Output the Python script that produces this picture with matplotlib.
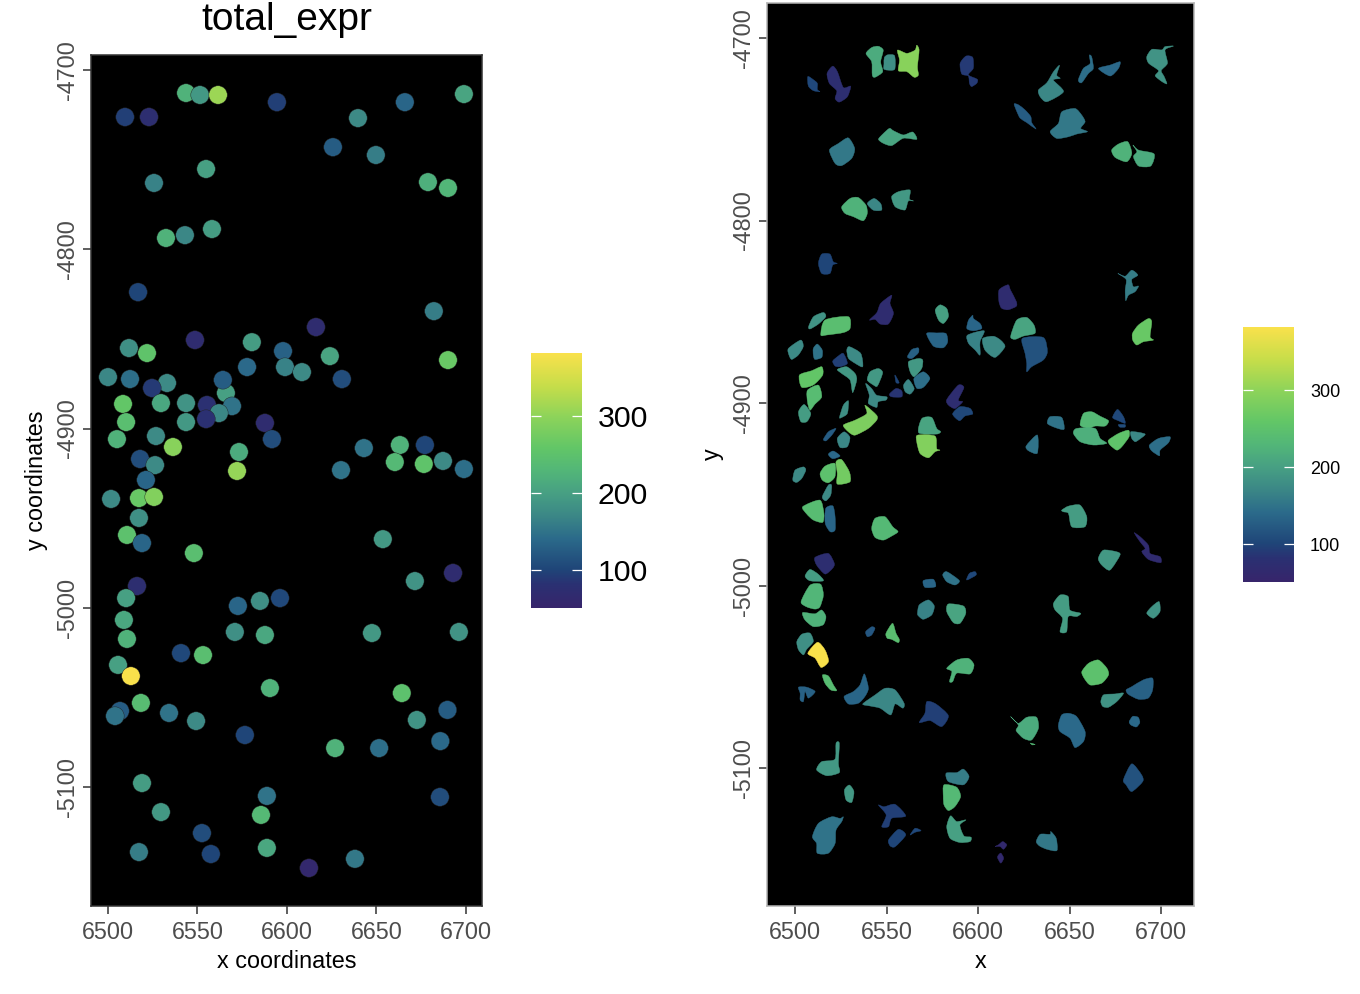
import numpy as np
import matplotlib
matplotlib.use("Agg")
import matplotlib.pyplot as plt
from matplotlib.collections import PatchCollection
from matplotlib.colors import LinearSegmentedColormap, Normalize
from matplotlib.patches import PathPatch
from matplotlib.path import Path

plt.rcParams['font.family'] = ['Liberation Sans', 'DejaVu Sans']
plt.rcParams['axes.unicode_minus'] = False

# spatPlot (left): one point per cell
point_x = [6509.5, 6522.9, 6543.6, 6551.4, 6561.5, 6594.4, 6639.7, 6665.9, 6698.9, 6625.7, 6649.7, 6678.8,
           6690.0, 6554.8, 6525.7, 6532.4, 6543.0, 6558.1, 6516.8, 6682.1, 6511.7, 6521.8, 6548.6, 6580.4,
           6597.8, 6624.0, 6616.2, 6577.7, 6598.9, 6608.4, 6630.7, 6690.0, 6500.0, 6512.3, 6533.0, 6524.6,
           6565.9, 6564.2, 6508.4, 6529.6, 6543.6, 6555.3, 6569.3, 6562.0, 6510.1, 6543.6, 6554.8, 6505.0,
           6526.8, 6536.3, 6517.9, 6526.3, 6521.2, 6573.2, 6572.1, 6587.7, 6591.6, 6643.0, 6630.2, 6663.1,
           6677.1, 6687.2, 6660.3, 6676.5, 6698.9, 6501.7, 6517.3, 6525.7, 6517.3, 6510.6, 6519.0, 6548.0,
           6653.6, 6671.5, 6692.8, 6516.2, 6510.1, 6572.6, 6584.9, 6596.1, 6508.9, 6510.6, 6570.9, 6587.7,
           6647.5, 6696.1, 6540.8, 6553.1, 6505.6, 6512.8, 6590.5, 6664.2, 6518.4, 6506.7, 6503.9, 6534.1,
           6549.2, 6672.6, 6689.7, 6685.7, 6651.5, 6626.9, 6576.5, 6519.0, 6529.6, 6552.5, 6588.8, 6585.5,
           6517.3, 6557.5, 6588.8, 6612.3, 6638.0, 6685.5]
point_y = [-4726.2, -4726.2, -4712.8, -4713.9, -4713.9, -4717.9, -4726.8, -4717.9, -4713.4, -4743.0, -4747.4, -4762.5,
           -4765.8, -4755.2, -4763.0, -4793.7, -4792.1, -4788.7, -4823.9, -4834.5, -4855.1, -4857.9, -4850.6, -4851.8,
           -4856.8, -4859.6, -4843.4, -4865.7, -4865.7, -4868.5, -4872.4, -4861.8, -4871.3, -4872.4, -4874.6, -4877.4,
           -4880.2, -4872.9, -4886.3, -4885.8, -4885.8, -4886.9, -4887.5, -4891.4, -4896.4, -4896.4, -4894.7, -4905.9,
           -4904.2, -4910.3, -4917.0, -4920.4, -4928.7, -4913.1, -4923.7, -4896.9, -4905.9, -4910.9, -4923.2, -4909.2,
           -4909.2, -4918.1, -4918.7, -4919.8, -4922.6, -4939.3, -4938.8, -4938.2, -4949.9, -4959.4, -4963.9, -4969.5,
           -4961.7, -4985.1, -4980.6, -4987.9, -4994.6, -4999.0, -4996.2, -4994.6, -5006.8, -5017.4, -5013.5, -5015.2,
           -5014.1, -5013.5, -5025.3, -5026.4, -5031.9, -5038.1, -5044.8, -5047.6, -5053.1, -5057.6, -5060.4, -5058.7,
           -5063.2, -5062.6, -5057.0, -5074.4, -5078.3, -5078.3, -5071.0, -5097.8, -5114.0, -5125.7, -5105.0, -5115.6,
           -5136.3, -5137.4, -5134.0, -5145.2, -5140.1, -5105.6]
point_value = [95, 75, 225, 190, 310, 95, 175, 135, 205, 125, 160, 220,
               230, 200, 165, 225, 170, 195, 100, 160, 180, 255, 70, 195,
               130, 205, 70, 140, 165, 175, 110, 265, 170, 145, 175, 90,
               200, 125, 260, 210, 185, 80, 150, 170, 245, 190, 80, 225,
               175, 295, 110, 175, 135, 215, 305, 70, 110, 150, 150, 225,
               100, 175, 235, 255, 145, 175, 265, 290, 180, 250, 135, 245,
               190, 185, 70, 75, 200, 135, 180, 105, 210, 225, 180, 210,
               190, 185, 105, 245, 200, 384, 225, 250, 240, 125, 150, 150,
               175, 185, 125, 140, 145, 225, 100, 195, 190, 110, 150, 235,
               160, 100, 210, 60, 155, 110]

# spatInSituPlotPoints (right): cell outlines, as centre + offsets in data units
cell_x = [6510.0, 6523.7, 6543.7, 6551.6, 6561.8, 6593.8, 6639.4, 6659.0, 6671.8, 6697.7,
          6625.7, 6649.4, 6678.5, 6690.4, 6525.5, 6555.6, 6532.8, 6543.7, 6558.3, 6517.3,
          6682.2, 6616.4, 6548.3, 6580.2, 6511.9, 6521.9, 6597.5, 6577.4, 6598.4, 6608.0,
          6624.4, 6630.6, 6690.0, 6500.9, 6512.2, 6524.6, 6532.8, 6564.3, 6565.6, 6508.2,
          6528.6, 6543.7, 6555.6, 6555.2, 6562.0, 6569.2, 6543.7, 6510.4, 6505.0, 6526.8,
          6535.9, 6518.8, 6526.4, 6521.3, 6516.0, 6587.4, 6591.6, 6573.8, 6572.5, 6642.6,
          6629.9, 6663.1, 6677.1, 6678.5, 6660.3, 6676.7, 6687.1, 6699.1, 6502.4, 6518.2,
          6526.4, 6517.3, 6510.0, 6519.2, 6547.9, 6653.9, 6671.2, 6692.2, 6510.0, 6509.1,
          6573.2, 6584.7, 6596.2, 6571.4, 6587.8, 6645.7, 6695.8, 6510.9, 6541.0, 6552.8,
          6590.2, 6505.5, 6512.8, 6518.8, 6505.5, 6533.7, 6549.2, 6576.5, 6664.0, 6672.2,
          6688.5, 6685.5, 6627.5, 6651.2, 6684.9, 6518.2, 6529.7, 6553.8, 6555.6, 6565.6,
          6516.4, 6589.6, 6588.4, 6585.6, 6613.5, 6612.4, 6637.6, 6629.9]
cell_y = [-4725.8, -4724.9, -4713.0, -4713.2, -4713.9, -4715.7, -4727.6, -4718.5, -4717.2, -4712.0,
          -4743.0, -4746.8, -4762.3, -4765.0, -4762.3, -4754.4, -4793.4, -4791.2, -4788.4, -4823.5,
          -4835.4, -4842.5, -4850.9, -4850.9, -4854.9, -4857.8, -4856.8, -4865.2, -4866.4, -4868.3,
          -4859.1, -4871.9, -4861.3, -4870.6, -4871.9, -4876.8, -4874.6, -4872.5, -4879.8, -4885.6,
          -4886.5, -4885.6, -4887.0, -4894.4, -4891.1, -4887.4, -4895.7, -4896.6, -4905.7, -4903.9,
          -4910.3, -4917.2, -4920.3, -4928.5, -4987.9, -4896.6, -4905.3, -4913.0, -4923.6, -4910.8,
          -4923.0, -4909.0, -4907.5, -4912.5, -4918.1, -4920.0, -4918.1, -4923.6, -4939.5, -4938.6,
          -4937.7, -4949.2, -4959.0, -4963.2, -4968.7, -4962.3, -4985.7, -4979.7, -4994.3, -5006.2,
          -4998.8, -4995.7, -4994.8, -5013.0, -5015.2, -5013.4, -5014.3, -5017.0, -5025.3, -5026.2,
          -5044.4, -5031.6, -5038.0, -5053.2, -5058.1, -5058.1, -5063.6, -5070.9, -5047.7, -5062.3,
          -5057.2, -5074.6, -5078.2, -5079.1, -5105.6, -5097.4, -5114.2, -5123.9, -5138.5, -5135.2,
          -5136.7, -5133.9, -5105.2, -5116.0, -5142.1, -5149.0, -5140.3, -5086.8]
cell_value = [105, 75, 215, 180, 295, 90, 170, 145, 140, 185,
              125, 155, 225, 215, 155, 205, 225, 170, 190, 100,
              160, 70, 70, 200, 185, 245, 135, 135, 165, 175,
              205, 115, 265, 175, 150, 95, 175, 130, 190, 260,
              190, 190, 100, 85, 170, 145, 175, 240, 195, 180,
              285, 125, 170, 140, 75, 72, 105, 205, 290, 150,
              150, 235, 105, 110, 220, 255, 170, 145, 175, 250,
              275, 175, 240, 135, 235, 195, 190, 68, 195, 230,
              135, 150, 105, 165, 205, 195, 185, 225, 120, 245,
              225, 180, 384, 240, 130, 135, 170, 95, 250, 185,
              130, 140, 215, 140, 115, 190, 190, 95, 100, 105,
              150, 200, 160, 235, 62, 62, 155, 235]
cell_shape = [
    [(-3, 4.7), (0, 3), (2.2, 1), (2.2, -2.4), (3.6, -3.6), (0, -3), (-2.7, -.5)],
    [(-3.1, 9.5), (-.5, 6.4), (2.7, -2.2), (6.7, -1.5), (4.9, -7.3), (.5, -10.2), (-1.8, -8.2), (-.9, -4), (-4.9, 0), (-6.2, 5.5)],
    [(-4.9, 4.5), (-1.8, 7.8), (1.8, 8.5), (4.5, 6.4), (3.1, 0), (4.2, -5.5), (0, -8.5), (-1.5, -7.3), (-1.8, 0)],
    [(-2.8, 2.5), (-1, 4), (2.8, 3.5), (2.8, -4), (-2.8, -4), (-3, -1)],
    [(-5.8, 7.3), (-.7, 5.5), (3.8, 7.3), (4.7, 10), (6, 7.3), (5.1, -1.8), (5.6, -6.4), (3.3, -7.6), (-.7, -4.5), (-5.3, -4), (-4.7, 1.8)],
    [(-3.6, 1.8), (-.4, 5.8), (3.3, 5.1), (3.6, -.9), (.9, -4.5), (5.8, -6.9), (5.5, -9.1), (2.7, -10.9), (1.5, -9.1), (.9, -5.1), (-2.7, -4)],
    [(-6.4, -.9), (-1.8, 3.1), (1.8, 9.1), (5.1, 12.7), (3.6, 7.3), (5.5, 5.5), (1.8, 4.5), (7.3, -1.8), (-1.8, -7.3), (-5.5, -4.5)],
    [(-4.2, -4.5), (-1.5, 1.8), (2.2, 4.5), (1.8, 9.1), (3.1, 8.2), (4, 1.8), (1.3, -.9), (-2.4, -6)],
    [(-6, .5), (.4, 2.4), (5.8, 4.2), (4.9, .5), (.4, -3.6)],
    [(-5.5, 1.8), (-2.7, 5.8), (2.7, 5.5), (4.5, 7.3), (9.1, 7.6), (4.5, 5.5), (5.8, -1.8), (2.4, -5.8), (4, -9.1), (5.5, -13.1), (2.7, -11.8), (-.9, -8.7), (.9, -5.8), (-4.5, -1.8)],
    [(-6, 6.9), (-3.6, 6.4), (0, 3.6), (3.1, 0), (3.6, -3.3), (6, -6.9), (.9, -3.3), (-2.7, -.9), (-4.5, 2.7)],
    [(-10, -4.5), (-5.5, 0), (-3.6, 6.4), (3.6, 8.2), (7.3, 4.5), (9.1, .9), (6.7, -2.7), (10.4, -4.5), (4.5, -5.8), (0, -7.3), (-6.4, -8.2)],
    [(-5.5, .9), (-1.8, 4.2), (3.3, 5.5), (5.5, -.9), (2.7, -5.5), (-3.6, -3.1)],
    [(-5.8, 6.4), (-2.7, 3.6), (5.8, 1.5), (4, -5.1), (-2.7, -5.1), (-5.5, 0), (-3.6, 2.7)],
    [(-6.7, .9), (-1.8, 4.5), (3.6, 7.6), (7.1, 1.8), (5.5, -3.6), (0, -7.6), (-3.6, -6.4)],
    [(-10, -1.1), (-7.6, 1.8), (-4, 4.9), (-1.8, 3.6), (3.6, 1.3), (8.7, 2.9), (10.9, -1.1), (3.6, -.5), (-2.7, -4.5), (-7.3, -3.3)],
    [(-7.3, .9), (-2.7, 5.5), (1.8, 6), (6, 1.8), (6.7, -2.7), (4.5, -6.7), (-.9, -4.5), (-5.5, -2.7)],
    [(-4.2, .5), (-.5, 3.3), (3.1, .5), (3.6, -3.1), (-.9, -3.1)],
    [(-5.5, 1.5), (-1.8, 4.2), (4.5, 5.1), (4.2, .2), (6.4, -.9), (3.6, -.9), (1.8, -5.8), (-3.6, -4)],
    [(-4.5, 0), (-2.7, 5.1), (1.8, 5.1), (3.6, .9), (5.8, 0), (3.3, -.9), (1.8, -5.5), (-2.7, -5.5)],
    [(-5.8, 6.4), (-1.8, 4.9), (1.8, 8.2), (5.1, 5.5), (1.8, 3.1), (2.7, -.9), (5.5, -.5), (3.6, -3.6), (0, -5.5), (-1.5, -8.5), (-1.8, -2.7), (-1.3, 3.1)],
    [(-4.9, 4.5), (0, 7.3), (1.3, 4.5), (4.5, -1.8), (4.5, -4.5), (0, -6.4), (-3.6, -5.5), (-5, -1.8)],
    [(-7.6, -3.6), (-3.6, .4), (-1.5, 5.5), (4.5, 10), (3.6, 5.5), (5.5, 0), (2.7, -5.8), (-1.8, -5.8), (-4.5, -3.3)],
    [(-3.6, 1.8), (-.9, 4.7), (2.7, 2.7), (3.6, -1.8), (.9, -5.5), (-1.8, -3.6)],
    [(-4.5, -3.3), (-1.8, 2.2), (3.6, 4.5), (4.9, 2.2), (.9, -1.8), (-3.6, -4.5)],
    [(-7.8, -4.9), (-5.5, 3.3), (7.3, 5.1), (8.2, -1.3), (4.5, -3.6), (-4.5, -4.9)],
    [(-3.6, -2.4), (-2.7, 2.2), (-.4, 4.9), (0, 3.1), (3.6, .4), (4.5, -2.4), (0, -3.6)],
    [(-5.5, 3.3), (0, 3.6), (5.1, 3.3), (6, -1.3), (3.6, -4.5), (-1.8, -3.6)],
    [(-4.2, 3.6), (4.9, 6), (2.7, 0), (2.7, -7.3), (0, -4.5), (-3.6, -.9)],
    [(-5.5, 3.6), (.4, 4.9), (4.4, 2.7), (6.7, -.9), (1.3, -6.7), (-4.2, -2.7)],
    [(-6.6, -4.5), (-3.3, 4.5), (2.2, 6), (6.2, 1.8), (6.7, -2.7), (.4, -4.2), (-4.2, -6)],
    [(-6.4, 7.3), (5.1, 7.8), (7.3, 0), (5.1, -4.5), (-1.3, -8.2), (-4, -11), (-4, -6.4), (-4.9, -.9)],
    [(-5.6, -.5), (-2.4, 4), (3.1, 7.6), (4.9, 5.8), (4, -2.4), (5.8, -4.2), (.4, -5.1), (-3.3, -6.9), (-5.5, -4.2)],
    [(-4.5, .5), (2.2, 5.1), (3.6, 1.5), (.9, -3.1), (-2.7, -5.5), (-4.2, -3.1)],
    [(-2.2, 1.8), (0, 4.2), (2.7, .9), (2.4, -3.1), (-1.3, -4.2), (-2.2, -1.8)],
    [(-4, -.2), (-.9, 2.6), (1.8, 4), (4, -1.5), (0, -3.3), (-2.7, -2.9)],
    [(-4.5, 3.6), (-3.1, 5.5), (3.1, 1.8), (4.2, -5.5), (0, -3.6), (-3.6, -.9)],
    [(-2.9, -2.2), (-.5, 1.8), (3.1, 2.7), (3.1, 0), (-.5, -3.1)],
    [(-3.6, 2.4), (1.8, 4.2), (4.2, 3.3), (3.6, -1.3), (-.5, -5.8), (-2.7, -3.1)],
    [(-5.8, .9), (.9, 3.3), (6.4, 5.5), (6.9, .9), (1.8, -4.5), (-4.5, -5.8)],
    [(-5.5, 4.9), (-.4, 6.4), (4.2, 2.7), (5.1, -.9), (2.9, -7.8), (1.5, -.9), (-3.1, 2.7)],
    [(-4.2, -1.8), (-2.7, 2.7), (1.8, 4.5), (4.2, 2.2), (1.3, -5.1), (-.9, -4.5)],
    [(-1, 2.4), (1.3, -1.8), (-.4, -1.8)],
    [(-3.6, -.7), (0, 2.4), (3.1, 1.1), (3.1, -2.2), (-2.4, -2.2)],
    [(-2.7, .9), (0, 4), (3.1, -.9), (.9, -4), (-1.8, -2.7)],
    [(-4.2, .9), (.9, 4.5), (4.5, .9), (.9, -4), (-2.7, -4.5)],
    [(-5.1, 6.4), (-1.8, 3.6), (.9, 0), (6.4, -.9), (6, -2.7), (1.8, -3.6), (.9, -6.7), (-3.6, -4.5), (-3.1, 0)],
    [(-3.6, 3.6), (2.4, 6.4), (4.2, 0), (.5, -4), (-2.2, -7.3), (-3.6, -2.7)],
    [(-3.1, .9), (0, 4.9), (3.6, 0), (1.5, -4.5), (-1.8, -4.5)],
    [(-2.5, -4), (-.4, 2.7), (2.4, 5.1), (1.8, -1.8), (-1.3, -4)],
    [(-9.5, -1.8), (-3.1, .9), (3.3, 4.5), (2.4, 9.1), (8.7, 3.6), (8.7, .9), (4.2, -3.6), (-3.1, -7.3), (-6.7, -5.5)],
    [(-3.3, -2.7), (-.5, 1.5), (3.6, 3.3), (1.3, -.4), (-1.8, -3.5)],
    [(-3.3, .9), (.4, 4.5), (3.6, 1.5), (2.2, -3.6), (-1.8, -4)],
    [(-3.1, .4), (-.4, 2.2), (3.3, -.5), (-.7, -2)],
    [(-5.1, 3.3), (2.2, 5.5), (5.5, 0), (4.5, -2.7), (.4, -5.8), (-4.2, -.9)],
    [(-4.5, -1.5), (1.8, 6.4), (4.9, 5.1), (1.8, -1.8), (4.2, -2.7), (0, -6.4), (-3.6, -4.5)],
    [(-5.5, -.7), (-1.5, 3.3), (4, 2.4), (5.5, -.7), (1.3, -1.8), (-1.8, -4.4)],
    [(-6.2, -3.3), (-4.5, 4.5), (.9, 5.1), (3.6, -.9), (5.8, -2.7), (3.6, -4)],
    [(-6, 2.4), (-5.6, 6), (4, 5.5), (4.9, -1.3), (6.7, -2.2), (4, -3.1), (.4, -6.4), (-4.2, -4)],
    [(-4.7, -.4), (-3.3, 3.3), (3.1, 2.9), (4.4, -3.6), (-.5, -2.6)],
    [(-3.6, -.5), (2.5, 5.5), (2.5, -4.5), (-2.4, -3.1)],
    [(-7.3, -3.1), (-5.5, 3.3), (-.9, 4.2), (3.6, 1.8), (8.2, -.7), (6.4, -3.6), (.9, -3.6), (-2.7, -4.9)],
    [(-3.6, -.4), (-.9, 4), (2.4, 0), (3.3, -3.6), (-.4, -2.2)],
    [(-1.8, .7), (1.8, .7), (1.8, -.7), (-1, -.7)],
    [(-8.2, 1.5), (-6.4, 4.2), (3.6, 4.2), (6.4, -1.3), (10, -4), (2.7, -4.9), (-4.5, -3.1)],
    [(-5.5, -.4), (0, 3.3), (5.5, 5.1), (5.8, 1.5), (1.8, -4), (-.9, -5.8), (-4.5, -3.1)],
    [(-3.5, 2.4), (4.2, 1.1), (.5, -2.2), (-1.3, -3.1), (-3.1, -1.3)],
    [(-5.5, .5), (-.5, 4.2), (5.8, 5.1), (4.9, 1.8), (.4, -2.2), (0, -5.3), (-4.2, -2.6)],
    [(-3.6, -2.7), (-2.4, 2.7), (2.2, 4.5), (3.5, 2.7), (1.3, -1.8), (-1.5, -4)],
    [(-4.5, 0), (-1.8, 4), (3.6, 5.5), (3.6, -1.8), (0, -5.1), (-3.3, -3.6)],
    [(-4, 5.5), (-.9, 6.7), (3.3, 0), (3.6, -5.5), (-3.3, -6.7), (-3.3, -.9)],
    [(-2.4, -2.2), (.9, 4.2), (2.7, 4.2), (2.2, -1.3), (-.5, -4.4)],
    [(-5.8, 2.2), (3.6, 5.8), (5.8, -1.5), (5.1, -6.4), (0, -5.1), (-3.6, -1.8)],
    [(-2.4, 5.5), (1.5, 6.8), (2.7, .9), (2.7, -6.4), (0, -7.3), (-2.7, -2.7)],
    [(-6, 0), (-4.2, 5.5), (1.3, 6.4), (5.5, .9), (8.4, -1.8), (4.9, -4.2), (.4, -6.4), (-4.2, -4.9)],
    [(-8.2, 3.6), (-4.5, 5.8), (1.8, 6.4), (5.5, 0), (4.5, -5.5), (-2.7, -5.5), (-4.5, 1.8), (-7.3, 2.7)],
    [(-5.5, .5), (-2.7, 5.1), (4.5, 4.2), (6.4, 2.4), (.9, -5.8), (-3.6, -3.1)],
    [(-6.9, 8.6), (-3.6, 6.4), (.9, 1.8), (1.8, -2.7), (7.3, -4.5), (7.6, -7.8), (.9, -6), (-2.7, -1.8), (-.9, 0), (-3.6, 3.6)],
    [(-4.5, -.5), (-1.8, 3.1), (2.7, .5), (5.5, -3.1), (-1.8, -3.1)],
    [(-5.8, -2.7), (-.9, 6.4), (4.9, 6.9), (6.4, .9), (4.5, -5.5), (1.8, -6.7), (-2.7, -5.5)],
    [(-3.1, 1.5), (2.4, 2.2), (3.6, -1.8), (-2.2, -2.2)],
    [(-4, 1.5), (-1.8, 3.3), (5.1, -1.6), (2.7, -4), (-1.8, -2.2)],
    [(-2.4, -2.2), (-.9, 1.5), (2.2, 2.4), (2.7, .5)],
    [(-4.5, -2.2), (-3.5, 2.4), (1.5, 5.1), (4.7, 1.8), (3.3, -3.1), (-1.3, -5.5), (-4, -3.6)],
    [(-4.9, .9), (-4, 5.1), (4.2, 4), (5.5, 0), (2.4, -5.5), (-1.3, -5.1)],
    [(-4.5, 3.6), (-.9, 8.2), (3.6, 7.3), (4.5, 0), (10.4, -1.8), (8.2, -3.6), (3.6, -3.6), (2.7, -11.9), (-.9, -11.9), (.5, -4.6), (-3.6, 0)],
    [(-3.6, -.9), (-.9, 2.7), (3.1, 5.5), (3.6, 0), (0, -3.6)],
    [(-6.7, 2.2), (0, 1.5), (3.6, 3.6), (6, 0), (4.5, -4.5), (-.9, -5.5), (-5.5, -1.8)],
    [(-2.4, 0), (.9, 2.7), (2.7, 1.8), (.9, -1.8), (-1.5, -2.7)],
    [(-3.1, 0), (.5, 5.5), (2.4, 0), (4.2, -3.3), (3.6, -5.1), (0, -3.3), (-2.4, -2.7)],
    [(-7.3, -.9), (-1.8, 3.6), (4.5, 4.5), (7.6, .9), (5.5, -4), (-1.8, -3.6), (-4, -8.2), (-5.8, -8.2), (-4.5, -2.7)],
    [(-4.5, .9), (-1.8, 4.9), (2.7, 5.5), (4.5, .9), (.9, -3.3), (-.9, -6.4), (-3.6, -3.6)],
    [(-5.8, .9), (-.5, 6.9), (3.6, 2.7), (5.5, -3.6), (1.5, -6.9), (-1.8, -1.8)],
    [(-3.8, 4.2), (-.5, 3.6), (2.2, -1.3), (4, -4.4), (.7, -4), (-2.4, -.4)],
    [(-3.6, 2.4), (.9, 2.4), (5.5, 0), (1.8, -3.6), (0, 0), (-.9, -5.5), (-2.7, -4.6), (-2.7, -.9)],
    [(-6.9, -2.7), (-1.8, 0), (1.8, 3.6), (4.2, 9.7), (6.4, 1.8), (4.5, -2.7), (.9, -6.4), (-4.5, -6.8)],
    [(-12.2, -1.3), (-5.5, 3.6), (0, 7.3), (5.5, 6.4), (10.4, -.9), (9.7, -3.6), (5.5, -1.3), (3.1, -7.3), (-2.7, -3.6), (-8.2, -2.4)],
    [(-8.6, -4.2), (-5.5, .9), (-4.5, 7.3), (.5, 6), (7.3, -.4), (3.6, -6.4), (-2.7, -3.1)],
    [(-7.3, .5), (-3.6, 5.1), (1.8, 6.9), (6.4, 2.4), (7.3, -1.3), (3.6, -5.8), (-2.7, -6.8), (-6, -3.1)],
    [(-5.1, -1.3), (-3.6, 2.4), (2.7, 2.9), (7.3, 3.3), (3.6, -1.3), (-.9, -4.4), (-4, -4)],
    [(-7.6, 0), (-4.5, 1.8), (1.8, 5.5), (6.9, 6.4), (6.9, 0), (4.5, -4.5), (-.9, -5.1), (-6.4, -2.4)],
    [(-2.9, 0), (-1, 2.9), (2, 2.4), (2.9, -.5), (1, -2.9), (-2, -1.8)],
    [(-9.7, 6.4), (-5.5, 2.7), (-.9, 6), (4.5, 6), (5.5, 0), (1.8, -6.4), (-2.7, -5.5), (-6.7, -1.3), (-5.5, 1.8)],
    [(-7.3, 2.7), (-5.5, 8.2), (-1.8, 9.1), (2.7, 7.3), (7.3, -.9), (6.4, -6.4), (1.8, -9.7), (-.9, -4.6), (-6.4, -.9)],
    [(-5.5, -.9), (-.9, 7.9), (4.5, 1.8), (5.1, -1.8), (-.9, -7.3), (-4, -3.6)],
    [(-6.4, -3.6), (-3.6, .9), (3.6, 2.2), (4.2, 11), (6, 11), (5.5, 0), (6, -5.1), (-.9, -6.8)],
    [(-2.7, 2.2), (0, 4.9), (2.5, 1.3), (1.3, -4.6), (-1.8, -3.3)],
    [(-8.2, 3.6), (-5.1, 2.7), (.9, 4), (6.7, -2.4), (-.9, -3.6), (-2.7, -8.2), (-6.4, -8.2), (-4, -1.8)],
    [(-4.5, -.9), (.9, 4.9), (4.9, 1.8), (-.9, -4.6), (-3.6, -4.2)],
    [(-2.7, -1.5), (0, 2.2), (3.3, .9), (0, 0)],
    [(-6.9, -.9), (-3.6, 6.4), (3.6, 10), (8.2, 9.1), (10, 10), (9.1, 7.3), (6, 2.7), (5.5, -4.6), (1.8, -10), (-4.2, -10), (-4.6, -4.6)],
    [(-6.7, 1.8), (-4.6, 7.7), (-1.3, 4.6), (3.8, 5.5), (.5, 2.7), (2.7, -3.3), (6.6, -4), (6, -6.4), (.5, -6.9), (-4.9, -4.6)],
    [(-5.8, 2.4), (0, 2.7), (3.6, 4.6), (6.7, .5), (3.6, -4), (-4.6, -2.2)],
    [(-4.6, .4), (-4.2, 6.8), (2.7, 5.5), (4.9, .4), (1.8, -5.1), (-1.8, -7.3), (-4.2, -4.2)],
    [(-4.2, -.9), (-2.4, 0), (0, 1.8), (2.2, 0), (.4, -2.4), (-1.5, -.9)],
    [(-1.8, .2), (0, 2.4), (1.6, -.4), (0, -3.1)],
    [(-5.8, 0), (-3.6, 4), (1.8, 4), (2.2, 5.5), (5.1, 1.8), (5.5, -4.9), (0, -4.2), (-4, -2.4)],
    [(-1.3, .5), (1.3, -.3), (-.4, -.5)],
]

xticks = [6500, 6550, 6600, 6650, 6700]
yticks = [-4700, -4800, -4900, -5000, -5100]
legend_ticks = [100, 200, 300]
value_min = 50.6
value_max = 382.4

cmap = LinearSegmentedColormap.from_list('expr', [
    (0.0, '#37256b'), (0.09, '#2a3072'), (0.15, '#1f4578'), (0.27, '#2b6a8a'),
    (0.36, '#3b8786'), (0.45, '#47a083'), (0.54, '#52b678'), (0.63, '#62c667'),
    (0.75, '#8cd35a'), (0.87, '#c5dd4a'), (1.0, '#f9e14b')])
norm = Normalize(value_min, value_max)

W, H = 1360, 994


def box(x0, y0, x1, y1):
    # pixel box (top-left origin) to figure fractions
    return [x0 / W, 1 - y1 / H, (x1 - x0) / W, (y1 - y0) / H]


def rounded_path(cx, cy, shape, tension=0.75):
    # closed spline through the outline vertices
    pts = np.array(shape) + [cx, cy]
    n = len(pts)
    verts = [pts[0]]
    codes = [Path.MOVETO]
    for i in range(n):
        p0, p1, p2, p3 = pts[i - 1], pts[i], pts[(i + 1) % n], pts[(i + 2) % n]
        verts += [p1 + (p2 - p0) / 6 * tension, p2 - (p3 - p1) / 6 * tension, p2]
        codes += [Path.CURVE4] * 3
    return Path(verts, codes)


def style_panel(ax, xlim, ylim, xlabel, ylabel, spine_color):
    ax.set_facecolor('black')
    ax.set_xlim(*xlim)
    ax.set_ylim(*ylim)
    ax.set_xticks(xticks)
    ax.set_yticks(yticks)
    ax.tick_params(length=5.5, width=1.1, color='#333333', labelcolor='#4d4d4d', labelsize=16.8)
    ax.tick_params(axis='x', pad=5)
    ax.tick_params(axis='y', pad=3)
    for t in ax.get_yticklabels():
        t.set_rotation(90)
        t.set_va('center')
    ax.set_xlabel(xlabel, fontsize=16.8, color='black', labelpad=4.5)
    ax.set_ylabel(ylabel, fontsize=16.8, color='black', labelpad=6)
    for s in ax.spines.values():
        s.set_color(spine_color)
        s.set_linewidth(1.1)


def add_legend(rect, size):
    cax = fig.add_axes(box(*rect))
    cb = fig.colorbar(plt.cm.ScalarMappable(norm=norm, cmap=cmap), cax=cax)
    cb.outline.set_visible(False)
    cb.set_ticks(legend_ticks)
    cax.tick_params(length=0, labelsize=size, labelcolor='black', pad=11.5)
    cax.hlines(legend_ticks, 0, 0.2, color='white', lw=0.9, transform=cax.get_yaxis_transform())
    cax.hlines(legend_ticks, 0.8, 1, color='white', lw=0.9, transform=cax.get_yaxis_transform())


fig = plt.figure(figsize=(W / 100, H / 100), dpi=100)

ax1 = fig.add_axes(box(91, 55, 482, 906))
ax1.scatter(point_x, point_y, c=point_value, cmap=cmap, norm=norm, s=175, linewidths=0.3, edgecolors='#222222')
style_panel(ax1, (6490.5, 6709), (-5166.4, -4691.6), 'x coordinates', 'y coordinates', '#333333')
ax1.set_title('total_expr', fontsize=28, pad=18)
add_legend((531, 353, 582, 608), 21.8)

ax2 = fig.add_axes(box(767, 3, 1194, 906))
patches = [PathPatch(rounded_path(cx, cy, s)) for cx, cy, s in zip(cell_x, cell_y, cell_shape)]
cells = PatchCollection(patches, cmap=cmap, norm=norm, linewidths=0.3)
cells.set_array(np.array(cell_value))
cells.set_edgecolor('face')
ax2.add_collection(cells)
style_panel(ax2, (6484.7, 6718), (-5175.6, -4680.8), 'x', 'y', '#b5b5b5')
add_legend((1243, 327, 1294, 582), 13)

fig.savefig('out.png', dpi=100)
